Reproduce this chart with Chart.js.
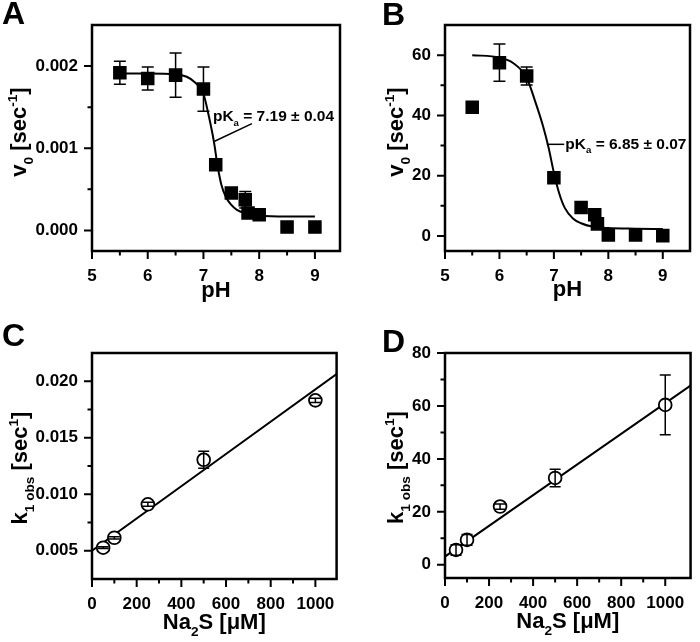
<!DOCTYPE html>
<html>
<head>
<meta charset="utf-8">
<script src="https://cdn.jsdelivr.net/npm/chart.js@4.4.1/dist/chart.umd.min.js"></script>
<style>
body { margin: 0; background: #fff; }
#wrap { position: relative; width: 700px; height: 642px; }
canvas { position: absolute; }
</style>
</head>
<body>
<div id="wrap">
  <canvas id="chartA" width="350" height="321" style="left:0;top:0"></canvas>
  <canvas id="chartB" width="350" height="321" style="left:350px;top:0"></canvas>
  <canvas id="chartC" width="350" height="321" style="left:0;top:321px"></canvas>
  <canvas id="chartD" width="350" height="321" style="left:350px;top:321px"></canvas>
</div>
<script>
// panel A - v0 vs pH
var phA = [5.5, 6, 6.5, 7, 7.22, 7.5, 7.75, 7.8, 8, 8.5, 9];
var rateA = [0.00192, 0.00185, 0.00189, 0.00172, 0.00080, 0.000456, 0.000374, 0.000212, 0.000191, 0.000041, 0.000041];
var errA = [0.00014, 0.00014, 0.00027, 0.00027, 0.00003, 0.00003, 0.0001, 0.00002, 0.00002, 0.00001, 0.00001];
var fitPhA = [5.5, 6.0, 6.5, 6.7, 6.85, 7.0, 7.1, 7.19, 7.25, 7.32, 7.4, 7.5, 7.6, 7.75, 8.0, 8.5, 9.0];
var fitRateA = [0.00191, 0.00191, 0.00190, 0.00187, 0.00180, 0.00166, 0.00138, 0.00107, 0.00080, 0.00056, 0.00041, 0.00031, 0.00025, 0.00021, 0.00018, 0.00017, 0.00017];

// panel B - v0 vs pH
var phB = [5.5, 6, 6.5, 7, 7.5, 7.75, 7.8, 8, 8.5, 9];
var rateB = [42.7, 57.5, 53.1, 19.3, 9.4, 7.0, 4.0, 0.3, 0.3, 0.1];
var errB = [0.5, 6.2, 3.0, 0.8, 0.8, 0.5, 0.5, 0.3, 0.3, 0.3];
var fitPhB = [5.5, 6.0, 6.25, 6.5, 6.65, 6.8, 6.9, 7.0, 7.1, 7.2, 7.35, 7.5, 7.7, 8.0, 8.5, 9.0];
var fitRateB = [60.0, 59.2, 57.4, 52.5, 45.0, 36.5, 29.5, 21.0, 14.0, 9.3, 5.8, 4.2, 3.1, 2.6, 2.4, 2.3];

// panels C and D - k1obs vs Na2S
var na2s = [50, 100, 250, 500, 1000];
var kobsC = [0.00527, 0.00615, 0.00911, 0.01305, 0.01831];
var errC = [0.00008, 0.0001, 0.00018, 0.00075, 0.00018];
var fitNaC = [0, 1100];
var fitKC = [0.0050, 0.0207];
var kobsD = [5.6, 9.4, 22.0, 32.8, 60.4];
var errD = [2.0, 2.0, 1.0, 3.3, 11.3];
var fitNaD = [0, 1120];
var fitKD = [3.1, 68.0];

// tick values
var phTicks = [5, 6, 7, 8, 9];
var phMinor = [5.5, 6.5, 7.5, 8.5];
var rateATicks = [0, 0.001, 0.002];
var rateAMinor = [0.0005, 0.0015];
var rateBTicks = [0, 20, 40, 60];
var rateBMinor = [10, 30, 50];
var naTicks = [0, 200, 400, 600, 800, 1000];
var naMinor = [100, 300, 500, 700, 900];
var kCTicks = [0.005, 0.010, 0.015, 0.020];
var kCMinor = [0.0075, 0.0125, 0.0175];
var kDTicks = [0, 20, 40, 60, 80];
var kDMinor = [10, 30, 50, 70];

var FONT = '"Liberation Sans", Arial, sans-serif';

function pts(xs, ys) {
    return xs.map(function (x, i) { return { x: x, y: ys[i] }; });
}

// text with sub/superscripts: parts are [text, -1 sub | 0 | 1 sup]
function drawRich(ctx, parts, x, y, size, align) {
    var total = 0;
    parts.forEach(function (p) {
        ctx.font = 'bold ' + (p[1] ? size * 0.62 : size) + 'px ' + FONT;
        total += ctx.measureText(p[0]).width;
    });
    var cx = align === 'center' ? x - total / 2 : x;
    parts.forEach(function (p) {
        var s = p[1] ? size * 0.62 : size;
        ctx.font = 'bold ' + s + 'px ' + FONT;
        var dy = p[1] === -1 ? size * 0.3 : (p[1] === 1 ? -size * 0.42 : 0);
        ctx.fillText(p[0], cx, y + dy);
        cx += ctx.measureText(p[0]).width;
    });
}

var decor = {
    id: 'decor',
    afterDatasetsDraw: function (chart, args, o) {
        var ctx = chart.ctx, xs = chart.scales.x, ys = chart.scales.y, a = chart.chartArea;
        ctx.save();
        ctx.strokeStyle = '#000';
        ctx.fillStyle = '#000';

        // error bars
        ctx.lineWidth = 1.5;
        o.errX.forEach(function (xv, i) {
            var px = xs.getPixelForValue(xv);
            var top = ys.getPixelForValue(o.errY[i] + o.err[i]);
            var bot = ys.getPixelForValue(o.errY[i] - o.err[i]);
            ctx.beginPath();
            ctx.moveTo(px, top); ctx.lineTo(px, bot);
            ctx.moveTo(px - o.cap, top); ctx.lineTo(px + o.cap, top);
            ctx.moveTo(px - o.cap, bot); ctx.lineTo(px + o.cap, bot);
            ctx.stroke();
        });

        // frame
        ctx.lineWidth = 2.5;
        ctx.strokeRect(a.left, a.top, a.right - a.left, a.bottom - a.top);

        // tick marks (outward)
        ctx.lineWidth = 2;
        ctx.beginPath();
        xs.ticks.forEach(function (t) {
            var p = xs.getPixelForValue(t.value);
            ctx.moveTo(p, a.bottom); ctx.lineTo(p, a.bottom + 8);
        });
        o.xMinor.forEach(function (v) {
            var p = xs.getPixelForValue(v);
            ctx.moveTo(p, a.bottom); ctx.lineTo(p, a.bottom + 4.5);
        });
        ys.ticks.forEach(function (t) {
            var p = ys.getPixelForValue(t.value);
            ctx.moveTo(a.left, p); ctx.lineTo(a.left - 8, p);
        });
        o.yMinor.forEach(function (v) {
            var p = ys.getPixelForValue(v);
            ctx.moveTo(a.left, p); ctx.lineTo(a.left - 4.5, p);
        });
        ctx.stroke();

        ctx.textBaseline = 'alphabetic';
        ctx.textAlign = 'left';

        // axis titles
        drawRich(ctx, o.xTitle, (a.left + a.right) / 2, a.bottom + o.xTitleDy, 22, 'center');
        ctx.save();
        ctx.translate(a.left - o.yTitleDx, (a.top + a.bottom) / 2 + o.yTitleDy);
        ctx.rotate(-Math.PI / 2);
        drawRich(ctx, o.yTitle, 0, 0, 22, 'center');
        ctx.restore();

        // panel letter
        ctx.font = 'bold 32px ' + FONT;
        ctx.fillText(o.letter, o.letterX, o.letterY);

        // pKa annotation
        if (o.note) {
            var n = o.note;
            ctx.lineWidth = 1.5;
            ctx.beginPath();
            ctx.moveTo(xs.getPixelForValue(n.from[0]), ys.getPixelForValue(n.from[1]));
            ctx.lineTo(xs.getPixelForValue(n.to[0]), ys.getPixelForValue(n.to[1]));
            ctx.stroke();
            drawRich(ctx, n.text, xs.getPixelForValue(n.at[0]), ys.getPixelForValue(n.at[1]), 15.5, 'left');
        }
        ctx.restore();
    }
};

function axis(min, max, ticks, dec, size, horizontal) {
    return {
        type: 'linear',
        min: min,
        max: max,
        afterBuildTicks: function (s) {
            s.ticks = ticks.map(function (v) { return { value: v }; });
        },
        afterFit: function (s) {
            if (horizontal) s.height = size; else s.width = size;
        },
        grid: { display: false, drawTicks: false },
        border: { display: false },
        ticks: {
            autoSkip: false,
            maxRotation: 0,
            padding: horizontal ? 15 : 14,
            color: '#000',
            font: { family: FONT, weight: 'bold', size: 17 },
            callback: function (v) { return v.toFixed(dec); }
        }
    };
}

function makePanel(id, p) {
    return new Chart(document.getElementById(id), {
        type: 'scatter',
        data: {
            datasets: [
                {
                    data: p.points,
                    pointStyle: p.square ? 'rect' : 'circle',
                    pointRadius: p.square ? 8.5 : 6.4,
                    pointBackgroundColor: p.square ? '#000' : '#fff',
                    pointBorderColor: '#000',
                    pointBorderWidth: p.square ? 1.5 : 1.8
                },
                {
                    data: p.fit,
                    showLine: true,
                    pointRadius: 0,
                    borderColor: '#000',
                    borderWidth: 2,
                    cubicInterpolationMode: 'monotone'
                }
            ]
        },
        options: {
            responsive: false,
            animation: false,
            devicePixelRatio: 1,
            layout: { padding: { left: 0, top: p.top, right: p.right, bottom: 0 } },
            scales: {
                x: axis(p.xMin, p.xMax, p.xTicks, p.xDec, p.xAxisH, true),
                y: axis(p.yMin, p.yMax, p.yTicks, p.yDec, p.yAxisW, false)
            },
            plugins: {
                legend: { display: false },
                tooltip: { enabled: false },
                decor: p.decor
            }
        },
        plugins: [decor]
    });
}

var pHTitle = [['pH', 0]];
var vTitle = [['v', 0], ['0', -1], [' [sec', 0], ['-1', 1], [']', 0]];
var kTitle = [['k', 0], ['1 obs', -1], [' [sec', 0], ['1', 1], [']', 0]];
var naTitle = [['Na', 0], ['2', -1], ['S [\u03bcM]', 0]];

makePanel('chartA', {
    points: pts(phA, rateA), fit: pts(fitPhA, fitRateA), square: true,
    top: 25, right: 7, xAxisH: 70, yAxisW: 92,
    xMin: 5, xMax: 9.45, xTicks: phTicks, xDec: 0,
    yMin: -0.00025, yMax: 0.0025, yTicks: rateATicks, yDec: 3,
    decor: {
        errX: phA, errY: rateA, err: errA, cap: 6,
        xMinor: phMinor, yMinor: rateAMinor,
        xTitle: pHTitle, xTitleDy: 46, yTitle: vTitle, yTitleDx: 66, yTitleDy: -6,
        letter: 'A', letterX: 2, letterY: 24,
        note: { from: [7.20, 0.001085], to: [7.87, 0.0013], at: [7.17, 0.00133],
                text: [['pK', 0], ['a', -1], [' = 7.19 \u00b1 0.04', 0]] }
    }
});

makePanel('chartB', {
    points: pts(phB, rateB), fit: pts(fitPhB, fitRateB), square: true,
    top: 25, right: 2, xAxisH: 70, yAxisW: 95,
    xMin: 5, xMax: 9.5, xTicks: phTicks, xDec: 0,
    yMin: -5, yMax: 70, yTicks: rateBTicks, yDec: 0,
    decor: {
        errX: phB, errY: rateB, err: errB, cap: 6,
        xMinor: phMinor, yMinor: rateBMinor,
        xTitle: pHTitle, xTitleDy: 45, yTitle: vTitle, yTitleDx: 42, yTitleDy: -6,
        letter: 'B', letterX: 32, letterY: 25,
        note: { from: [6.87, 30.4], to: [7.19, 30.4], at: [7.21, 29.0],
                text: [['pK', 0], ['a', -1], [' = 6.85 \u00b1 0.07', 0]] }
    }
});

makePanel('chartC', {
    points: pts(na2s, kobsC), fit: pts(fitNaC, fitKC), square: false,
    top: 32, right: 7, xAxisH: 63, yAxisW: 92,
    xMin: 0, xMax: 1095, xTicks: naTicks, xDec: 0,
    yMin: 0.0025, yMax: 0.0225, yTicks: kCTicks, yDec: 3,
    decor: {
        errX: na2s, errY: kobsC, err: errC, cap: 5.5,
        xMinor: naMinor, yMinor: kCMinor,
        xTitle: naTitle, xTitleDy: 50, yTitle: kTitle, yTitleDx: 65, yTitleDy: 2,
        letter: 'C', letterX: 2, letterY: 25
    }
});

makePanel('chartD', {
    points: pts(na2s, kobsD), fit: pts(fitNaD, fitKD), square: false,
    top: 32, right: 2, xAxisH: 64, yAxisW: 95,
    xMin: 0, xMax: 1115, xTicks: naTicks, xDec: 0,
    yMin: -5, yMax: 80, yTicks: kDTicks, yDec: 0,
    decor: {
        errX: na2s, errY: kobsD, err: errD, cap: 5.5,
        xMinor: naMinor, yMinor: kDMinor,
        xTitle: naTitle, xTitleDy: 50, yTitle: kTitle, yTitleDx: 42, yTitleDy: 2,
        letter: 'D', letterX: 32, letterY: 31
    }
});
</script>
</body>
</html>
